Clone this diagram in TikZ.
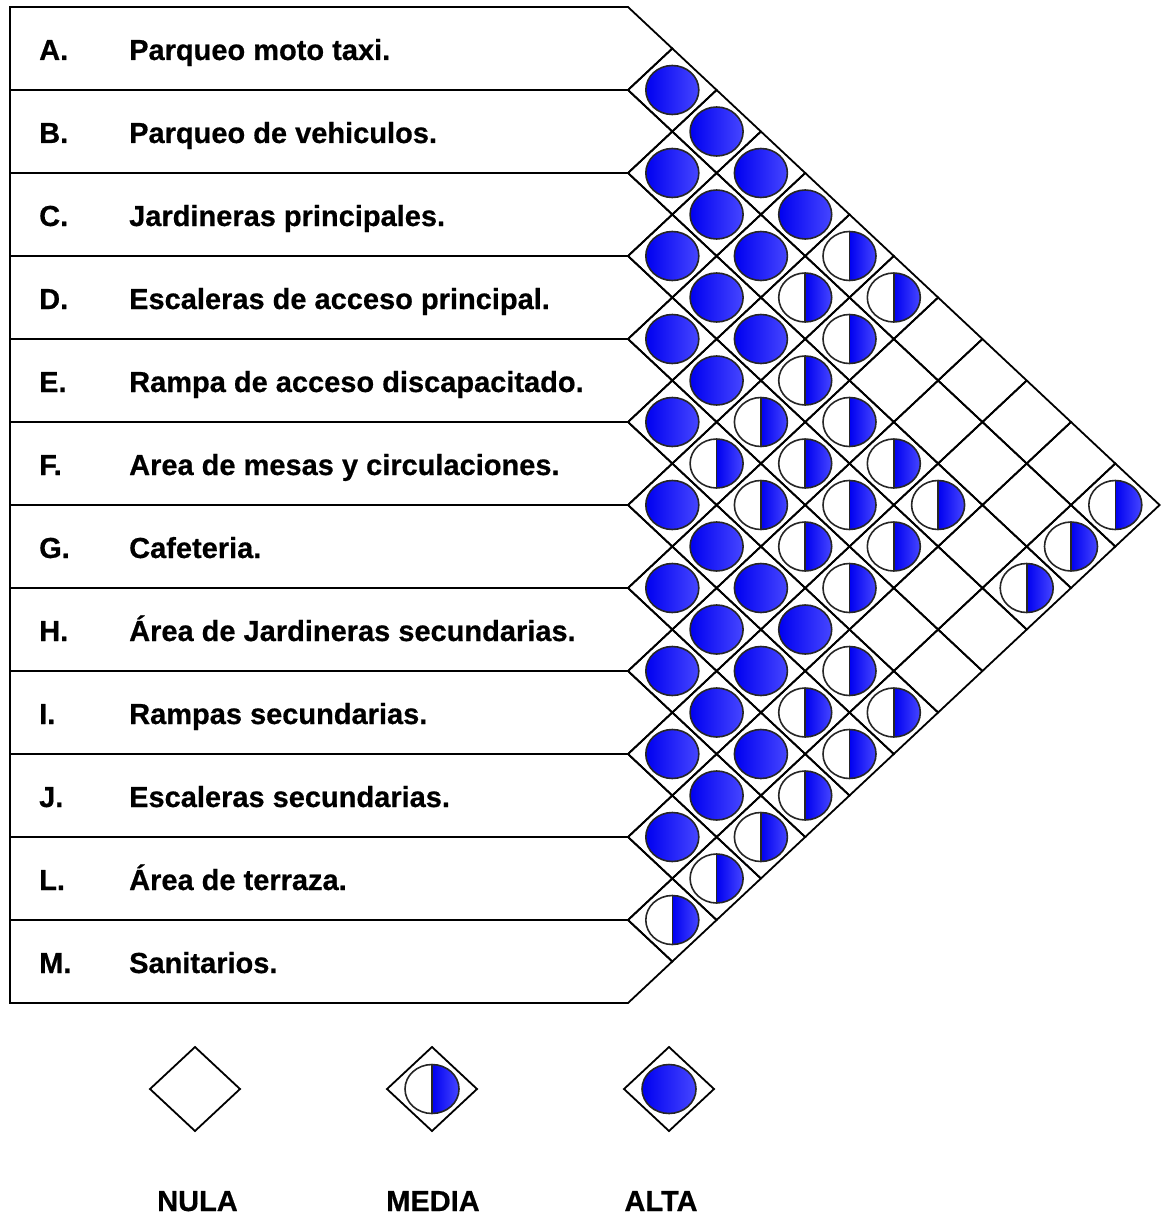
\documentclass[tikz,border=0pt]{standalone}
\usepackage{fontspec}
\setmainfont{Liberation Sans}[BoldFeatures={FakeBold=0.6}]
\definecolor{blueL}{RGB}{0,0,240}
\definecolor{blueR}{RGB}{70,70,255}
\def\hw{44.3}
\def\hh{41.5}
\def\rx{26.5}
\def\ry{24.5}
\tikzset{
  gridline/.style={draw=black,line width=1.8pt,line join=miter},
  rowbox/.style={draw=black,line width=1.8pt,line join=miter},
  lbl/.style={anchor=base west,inner sep=0pt,font=\fontsize{29}{34}\selectfont\bfseries},
  leglbl/.style={anchor=base,inner sep=0pt,font=\fontsize{29}{34}\selectfont\bfseries},
  ring/.style={draw=black!85,line width=1.6pt},
  bluefill/.style={left color=blueL,right color=blueR},
}
\begin{document}
\begin{tikzpicture}[x={(1pt,0pt)},y={(0pt,-1pt)}]
\useasboundingbox (0,0) rectangle (1163,1217);
% rows
\foreach \lt/\txt [count=\k from 0] in {
  A./Parqueo moto taxi.,
  B./Parqueo de vehiculos.,
  C./Jardineras principales.,
  D./Escaleras de acceso principal.,
  E./Rampa de acceso discapacitado.,
  F./Area de mesas y circulaciones.,
  G./Cafeteria.,
  H./Área de Jardineras secundarias.,
  I./Rampas secundarias.,
  J./Escaleras secundarias.,
  L./Área de terraza.,
  M./Sanitarios.}{
  \pgfmathsetmacro\yt{7+83*\k}
  \path[rowbox] (10,\yt) -- (628,\yt) -- (672.3,\yt+41.5) -- (628,\yt+83) -- (10,\yt+83) -- cycle;
  \node[lbl] (L\k) at (39,\yt+53) {\lt};
  \node[lbl] (T\k) at (129,\yt+53) {\txt};
}
% grid of diamonds
\foreach \i in {0,...,10}{
  \pgfmathtruncatemacro\js{\i+1}
  \foreach \j in {\js,...,11}{
    \pgfmathsetmacro\cx{628+\hw*(\j-\i)}
    \pgfmathsetmacro\cy{48.5+\hh*(\i+\j)}
    \draw[gridline] (\cx-\hw,\cy) -- (\cx,\cy-\hh) -- (\cx+\hw,\cy) -- (\cx,\cy+\hh) -- cycle;
  }
}
% ALTA (full)
\foreach \i/\j in {0/1,0/2,1/2,0/3,1/3,0/4,2/3,1/4,2/4,3/4,2/5,3/5,4/5,5/6,5/7,6/7,5/8,6/8,5/9,7/8,6/9,7/9,8/9,7/10,8/10,9/10}{
  \pgfmathsetmacro\cx{628+\hw*(\j-\i)}
  \pgfmathsetmacro\cy{48.5+\hh*(\i+\j)}
  \draw[ring,bluefill] (\cx,\cy) ellipse[x radius=\rx,y radius=\ry];
}
% MEDIA (half)
\foreach \i/\j in {0/5,1/5,0/6,1/6,2/6,3/6,2/7,4/6,3/7,2/8,4/7,3/8,2/9,0/11,4/8,3/9,1/11,4/9,2/11,5/10,6/10,5/11,6/11,7/11,8/11,9/11,10/11}{
  \pgfmathsetmacro\cx{628+\hw*(\j-\i)}
  \pgfmathsetmacro\cy{48.5+\hh*(\i+\j)}
  \path[fill=white] (\cx,\cy) ellipse[x radius=\rx,y radius=\ry];
  \path[bluefill] (\cx,\cy-\ry) arc[start angle=-90,end angle=90,x radius=\rx,y radius=\ry] -- cycle;
  \draw[ring] (\cx,\cy-\ry) -- (\cx,\cy+\ry);
  \draw[ring] (\cx,\cy) ellipse[x radius=\rx,y radius=\ry];
}
% legend
\draw[gridline] (150,1089) -- (195,1047) -- (240,1089) -- (195,1131) -- cycle;
\draw[gridline] (387,1089) -- (432,1047) -- (477,1089) -- (432,1131) -- cycle;
\path[fill=white] (432,1089) ellipse[x radius=27,y radius=24.5];
\path[bluefill] (432,1089-24.5) arc[start angle=-90,end angle=90,x radius=27,y radius=24.5] -- cycle;
\draw[ring] (432,1089-24.5) -- (432,1089+24.5);
\draw[ring] (432,1089) ellipse[x radius=27,y radius=24.5];
\draw[gridline] (624,1089) -- (669,1047) -- (714,1089) -- (669,1131) -- cycle;
\draw[ring,bluefill] (669,1089) ellipse[x radius=27,y radius=24.5];
\node[leglbl] (nula) at (197.5,1211) {NULA};
\node[leglbl] (media) at (433,1211) {MEDIA};
\node[leglbl] (alta) at (661,1211) {ALTA};
\end{tikzpicture}
\end{document}
